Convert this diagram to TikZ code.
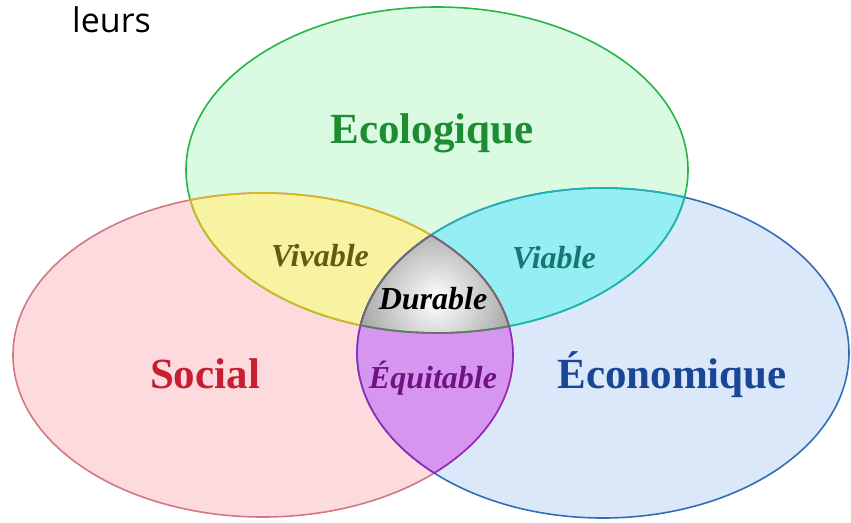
\documentclass[tikz,border=0pt]{standalone}
\usepackage{fontspec}
\setmainfont{Liberation Serif}
\newfontfamily\sansf{Open Sans}
\definecolor{gfill}{RGB}{218,250,225}
\definecolor{gline}{RGB}{40,180,70}
\definecolor{rfill}{RGB}{252,218,222}
\definecolor{rline}{RGB}{210,120,130}
\definecolor{bfill}{RGB}{218,232,250}
\definecolor{bline}{RGB}{50,110,180}
\definecolor{yfill}{RGB}{247,243,160}
\definecolor{yline}{RGB}{215,185,30}
\definecolor{cfill}{RGB}{150,238,245}
\definecolor{cline}{RGB}{30,180,180}
\definecolor{vfill}{RGB}{214,150,240}
\definecolor{vline}{RGB}{150,40,190}
\definecolor{tline}{RGB}{110,110,110}
\definecolor{tgreen}{RGB}{30,140,50}
\definecolor{tred}{RGB}{200,30,50}
\definecolor{tblue}{RGB}{25,70,150}
\definecolor{tolive}{RGB}{100,90,20}
\definecolor{tteal}{RGB}{20,120,110}
\definecolor{tpurple}{RGB}{110,20,130}
\begin{document}
\begin{tikzpicture}[x=1pt,y=-1pt,
  big/.style={font=\fontsize{43}{50}\selectfont\bfseries},
  small/.style={font=\fontsize{32}{38}\selectfont\bfseries\itshape},
  rim/.style={line width=1.6pt}]
\useasboundingbox (0,0) rectangle (851,522);
\coordinate (G) at (437,170);
\coordinate (R) at (263,355);
\coordinate (B) at (603,353);
% base fills
\fill[gfill] (G) ellipse [x radius=251pt,y radius=163pt];
\fill[rfill] (R) ellipse [x radius=250pt,y radius=162pt];
\fill[bfill] (B) ellipse [x radius=246pt,y radius=165pt];
% pairwise overlaps
\begin{scope}
  \clip (G) ellipse [x radius=251pt,y radius=163pt];
  \fill[yfill] (R) ellipse [x radius=250pt,y radius=162pt];
  \fill[cfill] (B) ellipse [x radius=246pt,y radius=165pt];
\end{scope}
\begin{scope}
  \clip (R) ellipse [x radius=250pt,y radius=162pt];
  \fill[vfill] (B) ellipse [x radius=246pt,y radius=165pt];
\end{scope}
% triple overlap
\begin{scope}
  \clip (G) ellipse [x radius=251pt,y radius=163pt];
  \clip (R) ellipse [x radius=250pt,y radius=162pt];
  \clip (B) ellipse [x radius=246pt,y radius=165pt];
  \shade[inner color=white,outer color=black!38] (436,300) circle (85pt);
\end{scope}
% outlines
\draw[rim,gline] (G) ellipse [x radius=251pt,y radius=163pt];
\draw[rim,rline] (R) ellipse [x radius=250pt,y radius=162pt];
\draw[rim,bline] (B) ellipse [x radius=246pt,y radius=165pt];
\begin{scope}
  \clip (G) ellipse [x radius=251pt,y radius=163pt];
  \draw[rim,yline] (R) ellipse [x radius=250pt,y radius=162pt];
  \draw[rim,cline] (B) ellipse [x radius=246pt,y radius=165pt];
\end{scope}
\begin{scope}
  \clip (R) ellipse [x radius=250pt,y radius=162pt];
  \draw[rim,yline] (G) ellipse [x radius=251pt,y radius=163pt];
  \draw[rim,vline] (B) ellipse [x radius=246pt,y radius=165pt];
\end{scope}
\begin{scope}
  \clip (B) ellipse [x radius=246pt,y radius=165pt];
  \draw[rim,cline] (G) ellipse [x radius=251pt,y radius=163pt];
  \draw[rim,vline] (R) ellipse [x radius=250pt,y radius=162pt];
\end{scope}
\begin{scope}
  \clip (G) ellipse [x radius=251pt,y radius=163pt];
  \clip (R) ellipse [x radius=250pt,y radius=162pt];
  \draw[rim,tline] (B) ellipse [x radius=246pt,y radius=165pt];
\end{scope}
\begin{scope}
  \clip (G) ellipse [x radius=251pt,y radius=163pt];
  \clip (B) ellipse [x radius=246pt,y radius=165pt];
  \draw[rim,tline] (R) ellipse [x radius=250pt,y radius=162pt];
\end{scope}
\begin{scope}
  \clip (R) ellipse [x radius=250pt,y radius=162pt];
  \clip (B) ellipse [x radius=246pt,y radius=165pt];
  \draw[rim,tline] (G) ellipse [x radius=251pt,y radius=163pt];
\end{scope}
% labels
\node[anchor=base west,font=\sansf\fontsize{34}{40}\selectfont,inner sep=0] (leurs) at (72,32) {leurs};
\node[big,text=tgreen] (eco) at (432,133) {Ecologique};
\node[big,text=tred] (soc) at (205,374) {Social};
\node[big,text=tblue] (econ) at (672,375) {Économique};
\node[small,text=tolive] (viv) at (320,256) {Vivable};
\node[small,text=tteal] (via) at (554,258) {Viable};
\node[small,text=black] (dur) at (433,299) {Durable};
\node[small,text=tpurple] (equ) at (433,378) {Équitable};
\end{tikzpicture}
\end{document}
